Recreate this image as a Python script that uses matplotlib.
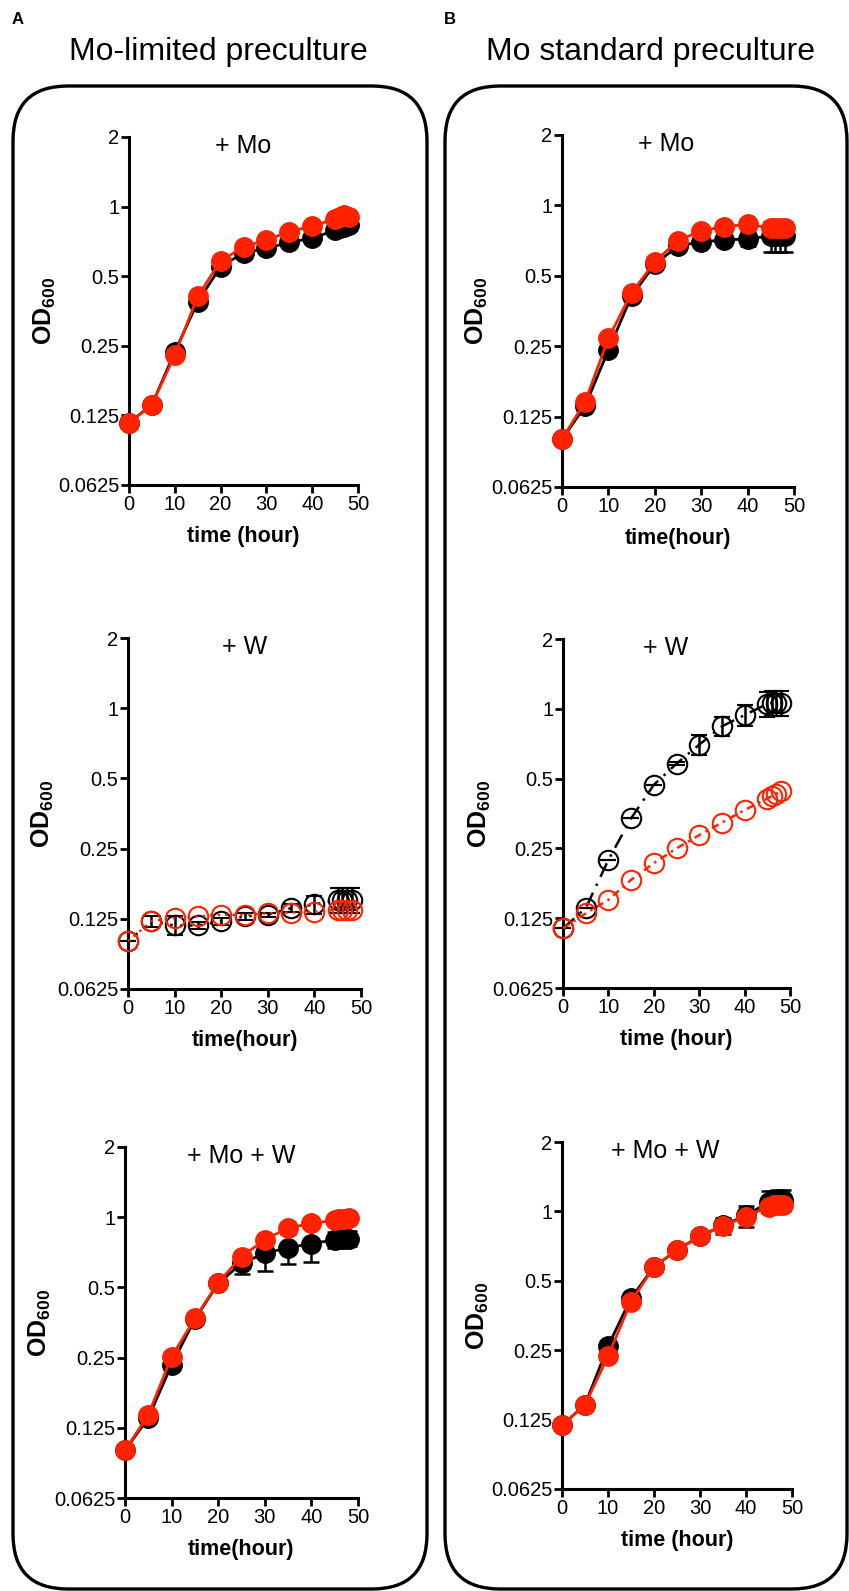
import matplotlib
matplotlib.use("Agg")
import matplotlib.pyplot as plt
from matplotlib.patches import FancyBboxPatch

plt.rcParams["font.family"] = ["Liberation Sans", "DejaVu Sans"]
plt.rcParams["mathtext.fontset"] = "custom"
plt.rcParams["mathtext.rm"] = "Liberation Sans"
plt.rcParams["mathtext.bf"] = "Liberation Sans:bold"
plt.rcParams["xtick.labelsize"] = 14.5
plt.rcParams["ytick.labelsize"] = 14.5

# ------------------------------------------------------------
# Podatki (odčitani s slike)
# ------------------------------------------------------------
time_h = [0, 5, 10, 15, 20, 25, 30, 35, 40, 45, 46, 47, 48]

y_ticks = [0.0625, 0.125, 0.25, 0.5, 1, 2]
y_tick_labels = ["0.0625", "0.125", "0.25", "0.5", "1", "2"]
x_ticks = [0, 10, 20, 30, 40, 50]

# A, + Mo
a_mo_black = [0.116, 0.139, 0.235, 0.387, 0.55, 0.63, 0.66, 0.70, 0.73, 0.79, 0.81, 0.82, 0.83]
a_mo_black_err = [0, 0, 0, 0, 0, 0, 0, 0, 0.01, 0.01, 0.01, 0.01, 0.01]
a_mo_red = [0.116, 0.139, 0.228, 0.409, 0.582, 0.669, 0.717, 0.779, 0.824, 0.882, 0.90, 0.92, 0.90]

# A, + W
a_w_black = [0.10, 0.122, 0.117, 0.117, 0.122, 0.128, 0.130, 0.139, 0.144, 0.151, 0.151, 0.151, 0.151]
a_w_black_err = [0, 0.007, 0.011, 0.004, 0.004, 0.004, 0.003, 0.005, 0.013, 0.018, 0.018, 0.018, 0.018]
a_w_red = [0.10, 0.122, 0.126, 0.128, 0.130, 0.130, 0.132, 0.133, 0.134, 0.137, 0.137, 0.137, 0.137]

# A, + Mo + W
a_mow_black = [0.10, 0.138, 0.233, 0.365, 0.52, 0.634, 0.70, 0.74, 0.77, 0.80, 0.81, 0.81, 0.81]
a_mow_black_err = [0, 0, 0, 0, 0, 0.065, 0.11, 0.11, 0.125, 0.06, 0.06, 0.06, 0.06]
a_mow_red = [0.10, 0.142, 0.252, 0.368, 0.524, 0.678, 0.80, 0.90, 0.94, 0.97, 0.98, 0.98, 0.99]

# B, + Mo
b_mo_black = [0.10, 0.139, 0.241, 0.41, 0.56, 0.67, 0.70, 0.71, 0.72, 0.74, 0.74, 0.74, 0.74]
b_mo_black_err = [0, 0, 0, 0, 0, 0, 0.01, 0.02, 0.05, 0.11, 0.11, 0.11, 0.11]
b_mo_red = [0.10, 0.145, 0.27, 0.423, 0.574, 0.707, 0.78, 0.81, 0.83, 0.80, 0.80, 0.80, 0.80]

# B, + W
b_w_black = [0.113, 0.138, 0.223, 0.337, 0.47, 0.58, 0.70, 0.84, 0.94, 1.05, 1.06, 1.06, 1.06]
b_w_black_err = [0, 0, 0, 0, 0, 0.01, 0.07, 0.08, 0.10, 0.13, 0.13, 0.13, 0.13]
b_w_red = [0.113, 0.131, 0.15, 0.183, 0.216, 0.25, 0.285, 0.323, 0.366, 0.41, 0.42, 0.43, 0.44]

# B, + Mo + W
b_mow_black = [0.118, 0.145, 0.26, 0.42, 0.575, 0.68, 0.78, 0.87, 0.96, 1.10, 1.11, 1.12, 1.12]
b_mow_black_err = [0, 0, 0, 0, 0, 0, 0.01, 0.07, 0.10, 0.12, 0.12, 0.12, 0.12]
b_mow_red = [0.118, 0.145, 0.235, 0.406, 0.575, 0.68, 0.78, 0.865, 0.95, 1.05, 1.07, 1.07, 1.07]

# ------------------------------------------------------------
# Slika
# ------------------------------------------------------------
W, H = 849, 1591
fig = plt.figure(figsize=(W / 100, H / 100), dpi=100)

black = "#000000"
red = "#ff2200"


def px_axes(l, t, r, b):
    return fig.add_axes([l / W, 1 - b / H, (r - l) / W, (b - t) / H])


def style_axes(ax, title, tx, xlabel):
    ax.set_yscale("log", base=2)
    ax.set_ylim(0.0625, 2)
    ax.set_xlim(0, 50)
    ax.minorticks_off()
    ax.set_yticks(y_ticks, y_tick_labels)
    ax.set_xticks(x_ticks, [str(v) for v in x_ticks])
    for s in ["top", "right"]:
        ax.spines[s].set_visible(False)
    for s in ["left", "bottom"]:
        ax.spines[s].set_linewidth(2.2)
    ax.tick_params(length=6, width=2, pad=1, labelsize=14.5)
    ax.set_xlabel(xlabel, fontsize=15.5, fontweight="bold", labelpad=9)
    ax.set_ylabel(r"$\mathbf{OD}_{\mathbf{600}}$", fontsize=18)
    ax.yaxis.set_label_coords(-0.31, 0.5)
    ax.text(tx, 0.975, title, transform=ax.transAxes, ha="center",
            va="center", fontsize=18)


def filled_panel(ax, yb, yerr, yr):
    ax.errorbar(time_h, yb, yerr=yerr, color=black, lw=2, marker="o",
                ms=14, capsize=6, elinewidth=1.8, capthick=1.8,
                clip_on=False, zorder=2)
    ax.plot(time_h, yr, color=red, lw=2, marker="o", ms=14,
            clip_on=False, zorder=3)


def open_panel(ax, yb, yerr, yr, ls_b, ls_r):
    ax.errorbar(time_h, yb, yerr=yerr, color=black, lw=1.8, ls=ls_b,
                marker="o", ms=14, mfc="none", mew=1.5, capsize=6,
                elinewidth=1.8, capthick=1.8, clip_on=False, zorder=2)
    ax.plot(time_h, yr, color=red, lw=1.8, ls=ls_r, marker="o", ms=14,
            mfc="none", mew=1.5, clip_on=False, zorder=3)


# Stolpec A
ax = px_axes(129, 137, 358, 485)
filled_panel(ax, a_mo_black, a_mo_black_err, a_mo_red)
style_axes(ax, "+ Mo", 0.5, "time (hour)")

ax = px_axes(128, 638, 361, 989)
open_panel(ax, a_w_black, a_w_black_err, a_w_red, (0, (1, 3)), (0, (1, 2)))
style_axes(ax, "+ W", 0.5, "time(hour)")

ax = px_axes(125, 1147, 358, 1498)
filled_panel(ax, a_mow_black, a_mow_black_err, a_mow_red)
style_axes(ax, "+ Mo + W", 0.5, "time(hour)")

# Stolpec B
ax = px_axes(562, 135, 794, 487)
filled_panel(ax, b_mo_black, b_mo_black_err, b_mo_red)
style_axes(ax, "+ Mo", 0.45, "time(hour)")

ax = px_axes(563, 639, 790, 988)
open_panel(ax, b_w_black, b_w_black_err, b_w_red, (0, (6, 3, 1, 3)), (0, (3, 2, 1, 2)))
style_axes(ax, "+ W", 0.45, "time (hour)")

ax = px_axes(562, 1142, 792, 1489)
filled_panel(ax, b_mow_black, b_mow_black_err, b_mow_red)
style_axes(ax, "+ Mo + W", 0.45, "time (hour)")

# Zaobljena okvirja
for x0, x1 in [(13, 427), (445, 847)]:
    box = FancyBboxPatch((x0 / 100, (H - 1589) / 100), (x1 - x0) / 100, (1589 - 86) / 100,
                         boxstyle="round,pad=0,rounding_size=0.55",
                         transform=fig.dpi_scale_trans, fill=False,
                         lw=2.4, ec="black")
    fig.add_artist(box)

fig.text(12 / W, 1 - 19 / H, "A", fontsize=12, fontweight="bold", va="center")
fig.text(444 / W, 1 - 19 / H, "B", fontsize=12, fontweight="bold", va="center")
fig.text(218 / W, 1 - 60 / H, "Mo-limited preculture", fontsize=23,
         ha="center", va="baseline")
fig.text(650 / W, 1 - 60 / H, "Mo standard preculture", fontsize=23,
         ha="center", va="baseline")

fig.savefig("out.png", dpi=100)
